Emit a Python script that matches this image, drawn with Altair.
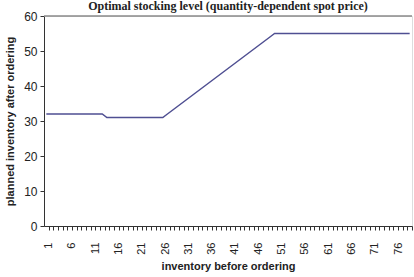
import altair as alt
import pandas as pd

# inventory before ordering (categories 1..79)
inventory_before = list(range(1, 80))

# planned inventory after ordering, one value per category
planned_after = [
    32, 32, 32, 32, 32, 32, 32, 32, 32, 32, 32, 32, 32,
    31, 31, 31, 31, 31, 31, 31, 31, 31, 31, 31, 31, 31,
    32, 33, 34, 35, 36, 37, 38, 39, 40, 41, 42, 43,
    44, 45, 46, 47, 48, 49, 50, 51, 52, 53, 54, 55,
    55, 55, 55, 55, 55, 55, 55, 55, 55, 55, 55, 55, 55, 55,
    55, 55, 55, 55, 55, 55, 55, 55, 55, 55, 55, 55, 55, 55, 55,
]

y_ticks = [0, 10, 20, 30, 40, 50, 60]

chart_title = ["Optimal stocking level (quantity-dependent spot price)"]

df = pd.DataFrame({"inv": inventory_before, "planned": planned_after})

SANS = "Liberation Sans"

x_scale = alt.Scale(domain=[0.5, 79.5], nice=False, zero=False)
y_scale = alt.Scale(domain=[0, 60], nice=False)

y_axis = alt.Axis(
    values=y_ticks,
    tickCount=7,
    labelFont=SANS,
    labelFontSize=12,
    labelColor="#222222",
    labelPadding=3,
    tickSize=4,
    tickColor="#333333",
    domainColor="#333333",
    grid=False,
    titleFont=SANS,
    titleFontSize=11,
    titleFontWeight="bold",
    titleColor="#222222",
    titlePadding=8,
)

line = alt.Chart(df).mark_line(color="#4f4f92", strokeWidth=1.5).encode(
    x=alt.X(
        "inv:Q",
        scale=x_scale,
        title="inventory before ordering",
        axis=alt.Axis(
            values=inventory_before,
            labelExpr="(datum.value - 1) % 5 == 0 ? datum.label : ''",
            labelAngle=270,
            labelOverlap=False,
            labelFlush=False,
            labelFont=SANS,
            labelFontSize=11,
            labelColor="#222222",
            labelPadding=12,
            tickSize=4,
            tickOffset=2.33,
            tickColor="#333333",
            domainColor="#333333",
            grid=False,
            titleFont=SANS,
            titleFontSize=11,
            titleFontWeight="bold",
            titleColor="#222222",
            titlePadding=6,
        ),
    ),
    y=alt.Y(
        "planned:Q",
        scale=y_scale,
        title="planned inventory after ordering",
        axis=y_axis,
    ),
)

top_rule = alt.Chart(pd.DataFrame({"top": [60]})).mark_rule(
    color="#8a8a8a", strokeWidth=1.5
).encode(y=alt.Y("top:Q", scale=y_scale, axis=y_axis, title="planned inventory after ordering"))

# chart heading, sitting just above the plot frame
heading = alt.Chart(pd.DataFrame({"t": chart_title})).mark_text(
    font="Liberation Serif",
    fontSize=12,
    fontWeight="bold",
    color="#222222",
    align="center",
    baseline="alphabetic",
).encode(text="t:N", x=alt.value(184), y=alt.value(-6))

chart = (
    alt.layer(top_rule, line, heading)
    .properties(
        width=368,
        height=210,
        autosize=alt.AutoSizeParams(type="none"),
        padding={"left": 44, "top": 16, "right": 2, "bottom": 51},
    )
    .configure_view(stroke=None)
    .configure(background="white")
)

chart.save("out.html", embed_options={"renderer": "svg", "actions": False})
